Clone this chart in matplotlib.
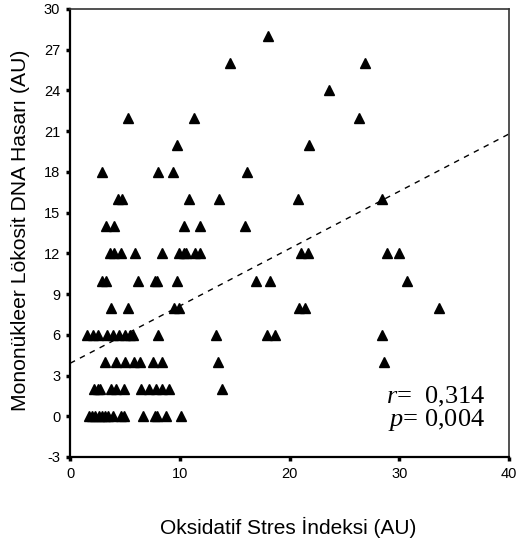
import numpy as np
import matplotlib
matplotlib.use('Agg')
import matplotlib.pyplot as plt

plt.rcParams['font.family'] = ['Liberation Sans', 'DejaVu Sans']
plt.rcParams['axes.unicode_minus'] = False
plt.rcParams['mathtext.fontset'] = 'custom'
plt.rcParams['mathtext.rm'] = 'Liberation Serif'
plt.rcParams['mathtext.it'] = 'Liberation Serif:italic'

# points read row by row (DNA hasari value -> list of stres indeksi values)
row_y = [0, 2, 4, 6, 8, 10, 12, 14, 16, 18, 20, 22, 24, 26, 28]
row_x = [
    [1.7, 2.0, 2.3, 2.6, 2.9, 3.2, 3.5, 3.9, 4.6, 4.9, 6.6, 7.7, 7.9, 8.7, 10.1],
    [2.2, 2.5, 2.7, 3.7, 4.2, 4.9, 6.5, 7.2, 7.8, 8.4, 9.0, 13.8],
    [3.2, 4.2, 5.0, 5.8, 6.4, 7.6, 8.4, 13.5, 28.6],
    [1.5, 2.1, 2.5, 3.4, 3.9, 4.5, 5.0, 5.5, 5.7, 8.0, 13.3, 17.9, 18.7, 28.4],
    [3.7, 5.3, 9.5, 9.9, 20.9, 21.4, 33.6],
    [2.9, 3.3, 6.2, 7.7, 7.9, 9.7, 16.9, 18.2, 30.7],
    [3.6, 4.0, 4.6, 5.9, 8.4, 9.9, 10.4, 10.6, 11.4, 11.8, 21.0, 21.7, 28.9, 30.0],
    [3.3, 4.0, 10.4, 11.8, 15.9],
    [4.4, 4.7, 10.8, 13.6, 20.8, 28.4],
    [2.9, 8.0, 9.4, 16.1],
    [9.7, 21.8],
    [5.3, 11.3, 26.3],
    [23.6],
    [14.6, 26.9],
    [18.0],
]

# fitted line ends
fit_x = [0, 40]
fit_y = [3.9, 20.8]

xticks = [0, 10, 20, 30, 40]
yticks = [-3, 0, 3, 6, 9, 12, 15, 18, 21, 24, 27, 30]

xs = []
ys = []
for yv, xl in zip(row_y, row_x):
    for xv in xl:
        xs.append(xv)
        ys.append(yv)

fig = plt.figure(figsize=(5.19, 5.45), dpi=100)
ax = fig.add_axes([0.135, 0.1615, 0.846, 0.822])

ax.plot(xs, ys, linestyle='none', marker='^', markersize=7, color='black')
ax.plot(fit_x, fit_y, linestyle=(0, (4, 4)), color='black', linewidth=1)

ax.set_xlim(0, 40)
ax.set_ylim(-3, 30)
ax.set_xticks(xticks)
ax.set_yticks(yticks)
ax.tick_params(direction='out', length=3, width=2.5, labelsize=10.5, pad=4)

for s in ['left', 'bottom']:
    ax.spines[s].set_linewidth(1.6)
for s in ['top', 'right']:
    ax.spines[s].set_linewidth(1.2)
    ax.spines[s].set_color('#333333')

ax.set_xlabel('Oksidatif Stres İndeksi (AU)', fontsize=15)
ax.set_ylabel('Mononükleer Lökosit DNA Hasarı (AU)', fontsize=15.2)
ax.xaxis.set_label_coords(0.497, -0.134)
ax.yaxis.set_label_coords(-0.091, 0.507)

ax.text(0.945, 0.134, '$r$=  0,314', transform=ax.transAxes, ha='right', va='center',
        fontsize=19, family='Liberation Serif')
ax.text(0.945, 0.083, '$p$= 0,004', transform=ax.transAxes, ha='right', va='center',
        fontsize=19, family='Liberation Serif')

plt.savefig('out.png', dpi=100)
